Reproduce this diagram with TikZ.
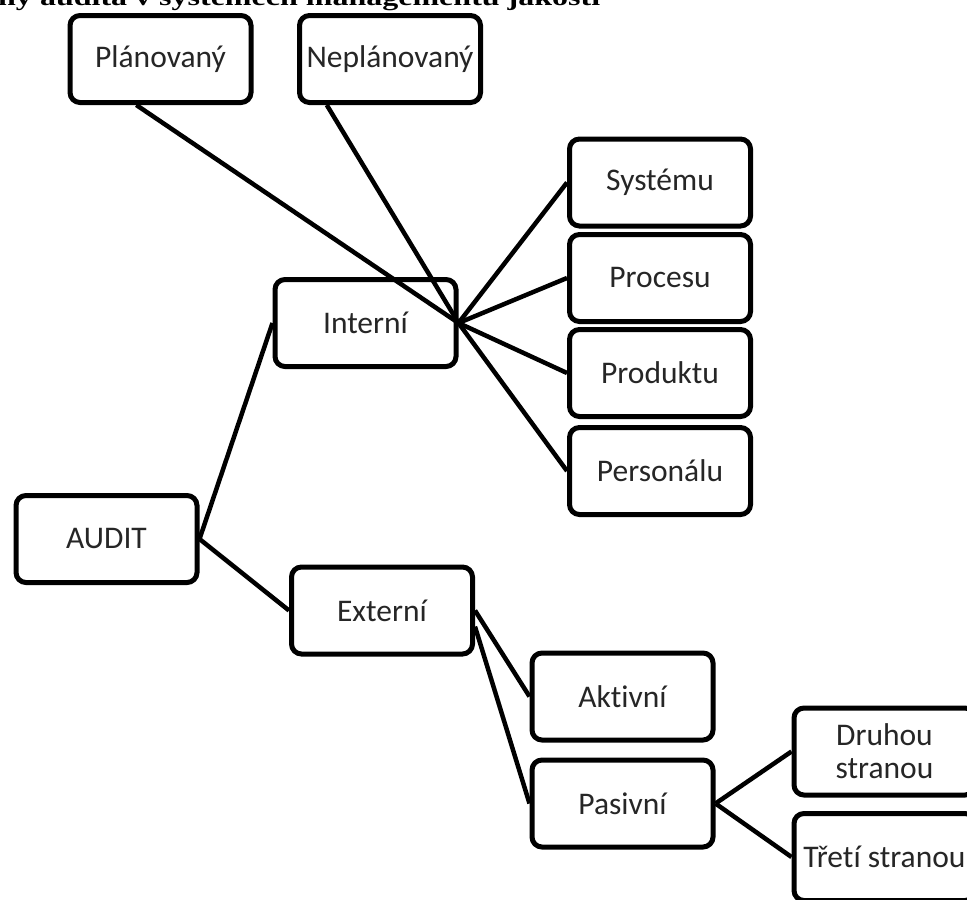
\documentclass[tikz,border=0pt]{standalone}
\usepackage{fontspec}
\setmainfont{Carlito}[Ligatures=NoCommon]
\newfontfamily\titlefont{Liberation Serif}
\usetikzlibrary{calc}
\begin{document}
\begin{tikzpicture}[x=1pt,y=-1pt,
  box/.style={draw=black,line width=5pt,rounded corners=10pt,fill=white,
    minimum width=181pt,minimum height=87pt,inner sep=2pt,align=center,
    text=black!85,font=\fontsize{31.5}{33}\selectfont},
  link/.style={line width=4.5pt}]
\useasboundingbox (0,0) rectangle (967,900);
\clip (0,0) rectangle (967,900);
\fill[white] (0,0) rectangle (967,900);

% heading, partly above the page edge
\node[anchor=base west,inner sep=0pt] (title) at (-2,5)
  {\resizebox{602pt}{\height}{\titlefont\bfseries\fontsize{24}{28}\selectfont ny audita v systémech managementu jakosti}};

\node[box] (plan)   at (160.5,59)  {Plánovaný};
\node[box] (neplan) at (390,59)    {Neplánovaný};
\node[box] (sys)    at (660,182.5) {Systému};
\node[box] (proc)   at (660,278)   {Procesu};
\node[box] (prod)   at (660,373)   {Produktu};
\node[box] (pers)   at (660,471)   {Personálu};
\node[box] (int)    at (365.5,323) {Interní};
\node[box] (audit)  at (106.5,539) {AUDIT};
\node[box] (ext)    at (382,610.5) {Externí};
\node[box] (akt)    at (622.5,696.5) {Aktivní};
\node[box] (pas)    at (622.5,803.5) {Pasivní};
\node[box] (druh)   at (884.5,751.5) {Druhou\\stranou};
\node[box] (treti)  at (884.5,857)   {Třetí stranou};

% tree connectors
\draw[link] ($(plan.south west)!0.37!(plan.south east)$) -- (int.east);
\draw[link] ($(neplan.south west)!0.16!(neplan.south east)$) -- (int.east);
\draw[link] (int.east) -- (sys.west);
\draw[link] (int.east) -- (proc.west);
\draw[link] (int.east) -- (prod.west);
\draw[link] (int.east) -- (pers.west);
\draw[link] (audit.east) -- (int.west);
\draw[link] (audit.east) -- (ext.west);
\draw[link] (ext.east) -- (akt.west);
\draw[link] ($(ext.east)!0.35!(ext.south east)$) -- (pas.west);
\draw[link] (pas.east) -- (druh.west);
\draw[link] (pas.east) -- (treti.west);
\end{tikzpicture}
\end{document}
